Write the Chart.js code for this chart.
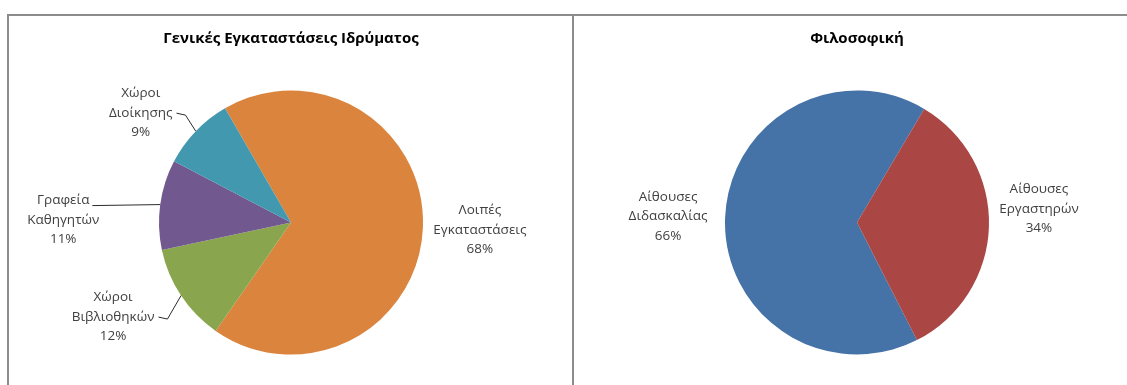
<!DOCTYPE html>
<html>
<head>
<meta charset="utf-8">
<script src="https://cdn.jsdelivr.net/npm/chart.js@4.4.1/dist/chart.umd.min.js"></script>
<style>
  body { margin: 0; background: #fff; width: 1127px; height: 385px; overflow: hidden; position: relative; }
  .box { position: absolute; top: 14px; height: 420px; box-sizing: border-box; border-top: 2px solid #8c8c8c; }
  #boxL { left: 7px; width: 567px; border-left: 2px solid #8c8c8c; border-right: 2px solid #8c8c8c; }
  #boxR { left: 574px; width: 600px; }
  canvas { position: absolute; top: 16px; }
  #pieL { left: 9px; }
  #pieR { left: 574px; }
</style>
</head>
<body>
<div class="box" id="boxL"></div>
<div class="box" id="boxR"></div>
<canvas id="pieL" width="563" height="369"></canvas>
<canvas id="pieR" width="553" height="369"></canvas>
<script>
// left chart
let titleL = "Γενικές Εγκαταστάσεις Ιδρύματος";
let catsL = ["Λοιπές Εγκαταστάσεις", "Χώροι Βιβλιοθηκών", "Γραφεία Καθηγητών", "Χώροι Διοίκησης"];
let valsL = [68, 12, 11, 9];
let colorsL = ["#DB843D", "#89A54E", "#71588F", "#4198AF"];

// right chart
let titleR = "Φιλοσοφική";
let catsR = ["Αίθουσες Διδασκαλίας", "Αίθουσες Εργαστηρών"];
let valsR = [66, 34];
let colorsR = ["#4572A7", "#AA4643"];

// draws excel style data labels (name + percent) with leader lines
const pieLabels = {
  id: "pieLabels",
  afterDatasetsDraw(chart, args, opts) {
    let ctx = chart.ctx;
    let meta = chart.getDatasetMeta(0);
    let data = chart.data.datasets[0].data;
    let total = data.reduce((a, b) => a + b, 0);
    ctx.save();
    ctx.font = opts.font;
    ctx.fillStyle = opts.color;
    ctx.strokeStyle = "#2b2b2b";
    ctx.lineWidth = 1;
    ctx.textAlign = "center";
    ctx.textBaseline = "middle";
    meta.data.forEach((arc, i) => {
      let p = arc.getProps(["x", "y", "startAngle", "endAngle", "outerRadius"], true);
      let mid = (p.startAngle + p.endAngle) / 2;
      let ax = p.x + Math.cos(mid) * p.outerRadius;
      let ay = p.y + Math.sin(mid) * p.outerRadius;
      let pl = opts.place[i];
      let cx = ax + pl.dx, cy = ay + pl.dy;
      let lines = chart.data.labels[i].split(" ");
      lines.push(Math.round(data[i] / total * 100) + "%");
      let lh = opts.lineHeight;
      let top = cy - lh * (lines.length - 1) / 2;
      lines.forEach((t, k) => ctx.fillText(t, cx, top + k * lh));
      let s = cx < ax ? 1 : -1;
      if (pl.leader == "elbow") {
        let ym = top + lh;
        let ex = cx + s * (ctx.measureText(lines[1]).width / 2 + 4);
        ctx.beginPath();
        ctx.moveTo(ax, ay);
        ctx.lineTo(ex + s * 9, ym + 2);
        ctx.lineTo(ex, ym);
        ctx.stroke();
      } else if (pl.leader == "flat") {
        let ex = cx + s * (ctx.measureText(lines[0]).width / 2 + 3);
        ctx.beginPath();
        ctx.moveTo(ax, ay);
        ctx.lineTo(ex, ay + 1);
        ctx.stroke();
      }
    });
    ctx.restore();
  }
};

function pieChart(id, title, cats, vals, colors, rot, pad, place) {
  return new Chart(document.getElementById(id).getContext("2d"), {
    type: "pie",
    data: {
      labels: cats,
      datasets: [{
        data: vals,
        backgroundColor: colors,
        borderWidth: 0
      }]
    },
    options: {
      responsive: false,
      animation: false,
      events: [],
      rotation: rot,
      layout: { padding: pad },
      plugins: {
        legend: { display: false },
        tooltip: { enabled: false },
        title: {
          display: true,
          text: title,
          color: "#000",
          font: { family: "'Open Sans'", size: 15, weight: "bold", lineHeight: 1.2 },
          padding: { top: 14, bottom: 42.5 }
        },
        pieLabels: {
          font: "13.5px 'Open Sans'",
          color: "#404040",
          lineHeight: 19.5,
          place: place
        }
      }
    },
    plugins: [pieLabels]
  });
}

pieChart("pieL", titleL, catsL, valsL, colorsL, -30,
  { left: 150, right: 149, top: 0, bottom: 30.5 },
  [
    { dx: 57, dy: 2, leader: "none" },
    { dx: -68, dy: 21.5, leader: "elbow" },
    { dx: -97, dy: 15.4, leader: "flat" },
    { dx: -55, dy: -18, leader: "elbow" }
  ]);

pieChart("pieR", titleR, catsR, valsR, colorsR, 153,
  { left: 151, right: 138, top: 0, bottom: 30.5 },
  [
    { dx: -57, dy: -2, leader: "none" },
    { dx: 50, dy: -17.6, leader: "none" }
  ]);
</script>
</body>
</html>
